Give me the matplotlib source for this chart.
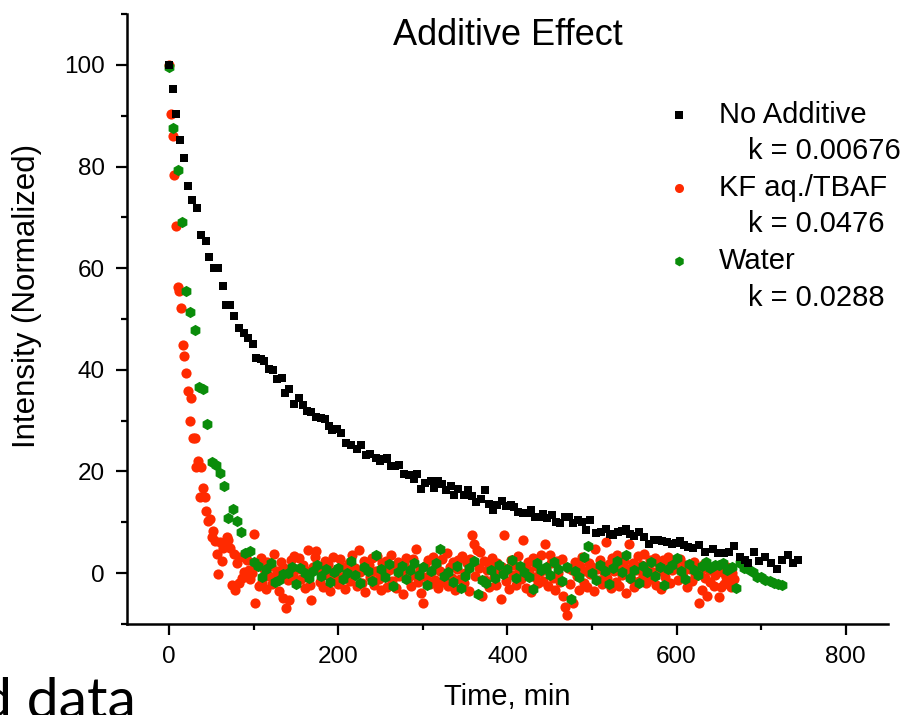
import matplotlib
matplotlib.use("Agg")
import matplotlib.pyplot as plt
import numpy as np
from matplotlib.ticker import MultipleLocator

# No Additive (black squares): time in min, normalized intensity
black_time = [
    0, 4, 8, 13, 18, 22, 27, 33, 38, 43,
    47, 53, 58, 63, 67, 72, 77, 83, 88, 93,
    99, 103, 108, 112, 118, 123, 128, 133, 137, 142,
    147, 153, 158, 163, 168, 174, 180, 184, 189, 193,
    198, 203, 209, 215, 222, 227, 233, 238, 244, 249,
    254, 258, 262, 267, 272, 278, 284, 289, 293, 298,
    303, 309, 313, 318, 323, 327, 333, 337, 342, 348,
    353, 358, 363, 369, 373, 378, 383, 388, 394, 398,
    404, 408, 413, 418, 423, 428, 433, 438, 442, 447,
    453, 457, 462, 468, 473, 477, 483, 488, 493, 498,
    505, 511, 516, 521, 525, 531, 536, 540, 545, 550,
    555, 562, 567, 573, 578, 583, 589, 594, 599, 604,
    609, 613, 619, 627, 634, 643, 649, 656, 662, 668,
    675, 681, 685, 691, 698, 705, 712, 719, 725, 732,
    738, 743,
]
black_value = [
    100, 95.2, 90.4, 85.3, 81.7, 76.2, 73.5, 71.9, 66.6, 65.4,
    62.1, 60.1, 60.0, 56.5, 52.8, 52.8, 50.5, 48.3, 47.3, 46.3,
    45.0, 42.4, 42.2, 41.8, 40.2, 39.9, 38.2, 38.4, 35.5, 36.3,
    33.3, 34.4, 33.1, 31.9, 31.8, 30.7, 30.5, 30.3, 28.9, 28.2,
    28.3, 27.6, 25.6, 25.3, 24.5, 25.3, 23.2, 23.5, 22.7, 22.1,
    22.4, 22.7, 21.0, 21.1, 21.2, 19.6, 19.4, 18.6, 19.6, 16.6,
    17.8, 18.1, 16.8, 18.1, 17.6, 16.3, 17.2, 15.3, 16.6, 15.3,
    16.4, 15.1, 14.0, 14.5, 16.3, 13.7, 12.4, 13.4, 14.2, 13.2,
    13.4, 13.0, 12.1, 11.9, 11.8, 12.4, 11.1, 11.0, 11.6, 10.8,
    11.4, 10.1, 9.8, 11.0, 11.1, 9.8, 10.4, 10.0, 8.5, 10.5,
    7.9, 8.1, 8.6, 7.8, 7.5, 8.1, 8.3, 8.6, 7.8, 7.3,
    8.1, 7.1, 5.8, 6.5, 6.5, 6.4, 6.2, 5.8, 6.0, 6.4,
    5.5, 5.2, 4.9, 5.5, 4.2, 4.7, 3.9, 3.9, 4.2, 5.3,
    3.2, 2.6, 2.0, 4.2, 2.4, 3.2, 2.0, 0.9, 2.6, 3.5,
    1.9, 2.6,
]

# KF aq./TBAF (red circles), one reading every 2 min from t = 0
red_step = 2
red_value = [
    100, 90.3, 86.0, 78.3, 68.2, 56.3, 55.6, 52.2, 44.8, 42.8,
    39.4, 35.8, 29.9, 34.5, 26.5, 26.5, 20.8, 22.1, 15.0, 20.8,
    16.8, 15.0, 12.2, 10.3, 10.7, 7.1, 8.3, 6.3, 3.7, -0.2,
    6.1, 2.4, 4.9, 6.1, 7.1, 6.5, 4.9, -2.4, 3.7, -3.3,
    1.9, -2.0, 3.2, -1.0, 0.3, -0.4, 2.6, 0.6, -1.2, 0.0,
    7.8, -5.8, 1.4, -2.5, 3.0, -1.8, 0.8, -3.1, 2.2, -0.6,
    1.5, -2.2, 3.8, -0.9, 0.4, -3.6, 2.1, -4.9, 1.0, -6.9,
    -1.3, -5.2, 2.6, -0.5, 3.4, -2.0, 0.9, 2.9, -1.1, 1.7,
    -3.0, 0.5, 4.5, -2.4, -5.2, 1.2, 3.2, 4.4, 1.2, -1.7,
    0.6, -2.8, 2.4, -0.3, 1.8, -3.5, 0.2, 3.1, -1.4, 0.9,
    -2.1, 2.7, -0.8, 1.3, -3.2, 0.4, 2.0, -1.6, 3.5, -0.2,
    1.1, -2.6, 4.5, 0.3, -1.9, 2.3, -3.8, 0.8, 1.6, -0.7,
    2.9, -2.3, 0.5, 3.3, -1.2, -3.4, 1.9, -0.4, 2.4, -2.7,
    0.7, 3.6, -1.5, 1.0, -2.9, 2.2, -0.6, 0.3, -4.1, 1.8,
    3.0, -1.0, 0.6, -2.5, 2.7, -0.3, 4.8, -1.8, 0.9, -4.0,
    -5.8, 1.4, -0.8, 2.5, -2.2, 0.2, 3.2, -1.3, 1.7, -3.0,
    0.5, 2.8, -1.7, -0.2, 3.9, -2.6, 1.2, -0.9, 2.1, -3.3,
    0.8, 2.6, -1.1, 3.4, -2.0, 0.1, 1.9, -3.6, 2.8, 7.6,
    5.8, -0.5, 4.5, 1.0, 4.2, -4.5, 2.3, -1.4, 0.6, -2.8,
    1.5, 3.0, -0.7, -2.3, 2.0, 0.4, -5.0, 1.3, 7.5, -1.6,
    0.9, -3.1, 2.6, -0.4, 1.7, -2.4, 3.3, 0.2, -1.2, 6.6,
    1.1, -2.9, 2.2, 0.5, -3.7, 2.9, -0.8, 1.4, -2.0, 0.3,
    3.6, -1.5, 5.8, 0.7, -2.6, 3.5, 1.9, -0.9, -3.4, 2.4,
    0.1, -1.8, 2.7, -4.4, -6.6, -8.3, 1.0, -2.1, 0.6, -5.8,
    2.2, -0.6, -3.3, 1.5, 3.1, -1.9, 0.4, -2.7, 2.0, -0.2,
    1.3, -3.6, 4.7, 0.8, -1.4, 2.5, -2.2, 0.3, 6.1, -0.9,
    1.8, -3.0, 2.9, 0.5, -1.7, 3.6, -2.5, 1.1, -0.4, 2.3,
    -3.9, 0.9, 5.8, -1.2, 2.0, -2.8, 0.6, 3.4, -1.5, 1.6,
    -0.3, 3.7, -2.0, 1.2, 2.6, -1.1, 0.2, 3.0, -2.4, 1.9,
    0.4, -3.2, 2.5, -0.8, 1.4, 3.2, -1.9, 0.7, 2.1, 1.5,
    1.0, -1.3, 2.8, 0.5, 0.3, 1.7, -2.7, 1.4, 0.8, -1.6,
    2.2, -0.5, 1.3, -5.8, 0.4, -3.4, 1.8, -1.0, -4.5, 0.6,
    -1.7, 1.1, -2.6, -0.3, 0.9, -4.6, -2.7, 0.2, -2.1, -0.8,
    1.2, -1.9, -2.8, 0.0, -1.2,
]

# Water (green hexagons), one reading every 5 min from t = 0
green_step = 5
green_value = [
    99.6, 87.5, 79.3, 69.0, 55.5, 51.3, 47.9, 36.7, 36.3, 29.4,
    21.9, 21.2, 19.7, 17.1, 10.9, 12.6, 10.3, 8.0, 4.0, 4.4,
    2.2, 1.4, -0.7, 0.9, 1.9, -1.7, -1.4, -0.1, 0.1, 1.3,
    -2.2, 1.1, 0.1, -0.9, 0.5, 1.6, -0.6, 0.8, -1.8, 0.3,
    1.0, -1.2, 0.0, 2.4, -0.4, -2.0, 1.3, 0.5, -1.5, 3.5,
    0.9, -0.8, 1.8, -2.6, 0.2, 1.5, -1.1, 0.6, 2.0, -0.3,
    1.2, -2.4, 0.4, 1.9, 4.8, -0.6, 0.3, -1.7, 1.4, -3.0,
    -0.5, 1.0, 2.3, -4.2, -1.3, -2.0, 0.7, -0.9, 1.6, -0.2,
    0.8, 2.6, -1.0, 1.5, 0.2, -0.7, -3.2, 2.0, 0.6, 1.3,
    -0.4, 2.1, 0.9, -1.6, 1.2, -5.0, 0.4, -0.8, 3.2, 5.3,
    0.1, -1.3, 1.7, 0.5, -2.2, 1.0, 2.4, 0.3, 3.5, -0.9,
    0.7, -1.9, 1.4, 0.2, 2.1, -0.5, 1.2, -2.4, 0.9, 1.6,
    2.9, 0.4, -1.1, 1.8, 0.6, -0.3, 1.5, 2.2, 1.1, 1.6,
    1.6, 2.0, 0.6, 1.3, -3.0, 1.9, 1.1, 0.8, 0.3, -0.8,
    -0.8, -1.4, -1.6, -2.0, -2.2, -2.4,
]

series_labels = ["No Additive", "KF aq./TBAF", "Water"]
rate_labels = ["k = 0.00676", "k = 0.0476", "k = 0.0288"]

RED = "#ff2a00"
GREEN = "#0a8c0a"
FONT = ["Liberation Sans", "DejaVu Sans"]

plt.rcParams["font.family"] = FONT

fig = plt.figure(figsize=(9.05, 7.15), dpi=100)
ax = fig.add_axes([0.1403, 0.1273, 0.8409, 0.8531])

red_time = np.arange(len(red_value)) * red_step
green_time = np.arange(len(green_value)) * green_step

ax.scatter(red_time, red_value, s=54, marker="o", color=RED, linewidths=0, zorder=2)
ax.scatter(green_time, green_value, s=66, marker="h", color=GREEN, linewidths=0, zorder=3)
ax.scatter(black_time, black_value, s=34, marker="s", color="black", linewidths=0, zorder=4)

ax.set_xlim(-50, 850)
ax.set_ylim(-10, 110)
ax.xaxis.set_major_locator(MultipleLocator(200))
ax.xaxis.set_minor_locator(MultipleLocator(100))
ax.yaxis.set_major_locator(MultipleLocator(20))
ax.yaxis.set_minor_locator(MultipleLocator(10))
ax.tick_params(which="major", direction="out", length=8, width=1.6, labelsize=17.5, pad=8)
ax.tick_params(which="minor", direction="out", length=4.5, width=1.6)
for side in ["top", "right"]:
    ax.spines[side].set_visible(False)
for side in ["left", "bottom"]:
    ax.spines[side].set_linewidth(1.8)

ax.set_xlabel("Time, min", fontsize=21, labelpad=11)
ax.set_ylabel("Intensity (Normalized)", fontsize=22.5)
ax.yaxis.set_label_coords(-0.112, 0.538)
ax.text(0.5, 0.965, "Additive Effect", transform=ax.transAxes, ha="center", va="center", fontsize=26)

# legend drawn by hand: marker + name, rate constant on the next line
legend_marks = [("s", "black", 5.5), ("o", RED, 6.5), ("h", GREEN, 7)]
for i, (label, rate) in enumerate(zip(series_labels, rate_labels)):
    y0 = 0.835 - i * 0.12
    mk, col, ms = legend_marks[i]
    ax.plot([0.725], [y0], marker=mk, color=col, markersize=ms, markeredgewidth=0,
            transform=ax.transAxes, clip_on=False)
    ax.text(0.778, y0, label, transform=ax.transAxes, ha="left", va="center", fontsize=21)
    ax.text(0.816, y0 - 0.06, rate, transform=ax.transAxes, ha="left", va="center", fontsize=21)

# fragment of the slide caption showing at the lower left
fig.text(-0.022, -0.004, "d data", fontsize=41, family=["Lato", "DejaVu Sans"], ha="left", va="baseline")

fig.savefig("out.png", dpi=100)
